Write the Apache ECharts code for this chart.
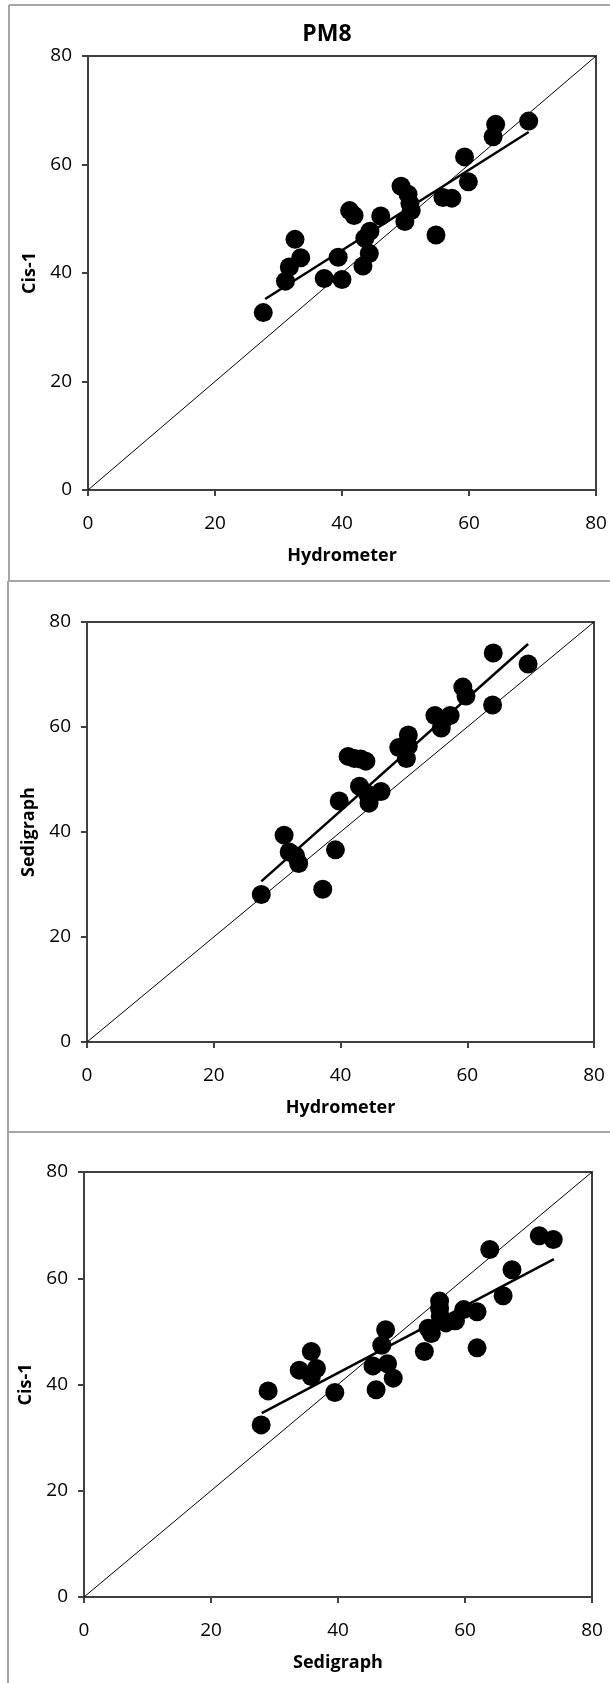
<!DOCTYPE html>
<html>
<head>
<meta charset="utf-8">
<script src="https://cdn.jsdelivr.net/npm/echarts@6/dist/echarts.min.js"></script>
<style>
html,body{margin:0;padding:0;background:#fff;}
#chart{width:610px;height:1683px;}
</style>
</head>
<body>
<div id="chart"></div>
<script>
// ---- Data ----
const chartTitle = 'PM8';
const axisTicks = [0, 20, 40, 60, 80];

// Panel 1: Hydrometer (x) vs Cis-1 (y)
const hydroVsCis = [
  [27.6,32.7],[31.1,38.5],[31.7,41.1],[32.6,46.2],[33.5,42.8],[37.2,39.0],
  [39.4,42.9],[40.0,38.8],[41.2,51.5],[41.9,50.6],[43.3,41.3],[44.3,43.6],
  [43.6,46.4],[44.4,47.7],[46.1,50.5],[49.3,56.0],[49.9,49.5],[50.4,54.5],
  [50.7,52.8],[50.9,51.5],[54.8,47.0],[55.9,53.9],[57.3,53.8],[59.3,61.4],
  [59.9,56.8],[63.8,65.1],[64.2,67.4],[69.4,68.0]
];
const hydroVsCisTrend = [[27.9,35.2],[69.4,66.0]];

// Panel 2: Hydrometer (x) vs Sedigraph (y)
const hydroVsSedi = [
  [27.5,28.1],[31.1,39.4],[31.9,36.2],[32.9,35.5],[33.4,34.0],[37.2,29.1],
  [39.2,36.6],[39.8,45.9],[41.2,54.4],[42.2,54.0],[43.2,53.9],[44.0,53.5],
  [43.0,48.7],[44.3,47.2],[44.5,45.5],[46.4,47.7],[49.2,56.1],[50.4,54.0],
  [50.7,58.5],[50.7,56.4],[54.9,62.2],[55.9,59.8],[56.2,61.3],[57.3,62.2],
  [59.3,67.6],[59.8,65.9],[64.1,74.1],[64.0,64.2],[69.6,72.0]
];
const hydroVsSediTrend = [[27.5,30.6],[69.6,75.8]];

// Panel 3: Sedigraph (x) vs Cis-1 (y)
const sediVsCis = [
  [27.9,32.4],[29.0,38.8],[33.9,42.7],[35.8,46.2],[35.8,41.5],[36.6,43.0],
  [39.5,38.5],[45.5,43.5],[46.0,39.0],[47.5,50.3],[46.9,47.4],[47.8,43.9],
  [48.7,41.2],[53.6,46.2],[54.2,50.6],[54.7,49.6],[56.0,55.7],[56.0,54.3],
  [56.1,52.8],[57.0,51.6],[58.5,52.0],[59.8,54.1],[61.9,53.7],[61.9,46.9],
  [63.9,65.4],[66.0,56.7],[67.4,61.6],[71.7,68.0],[73.9,67.3]
];
const sediVsCisTrend = [[28.0,34.6],[74.0,63.6]];

const oneToOne = [[0,0],[80,80]];

const panels = [
  {xName:'Hydrometer', yName:'Cis-1',     pts:hydroVsCis,  trend:hydroVsCisTrend},
  {xName:'Hydrometer', yName:'Sedigraph', pts:hydroVsSedi, trend:hydroVsSediTrend},
  {xName:'Sedigraph',  yName:'Cis-1',     pts:sediVsCis,   trend:sediVsCisTrend}
];

// ---- Layout ----
const grids = [
  {left:88, top:56,   width:508, height:434},
  {left:87, top:622,  width:507, height:420},
  {left:84, top:1172, width:508, height:425}
];
const FONT = '"Open Sans", "Liberation Sans", sans-serif';
const axisColor = '#404040';

function makeAxis(idx, name, isX) {
  return {
    type:'value', gridIndex:idx, min:axisTicks[0], max:axisTicks[axisTicks.length-1],
    interval:axisTicks[1]-axisTicks[0],
    name:name, nameLocation:'middle', nameGap: isX ? 57 : 41,
    nameTextStyle:{fontFamily:FONT, fontWeight:'bold', fontSize:18, color:'#000'},
    axisLine:{show:true, onZero:false, lineStyle:{color:axisColor, width:2}},
    axisTick:{show:true, inside:false, length:6, lineStyle:{color:axisColor, width:2}},
    axisLabel:{fontFamily:FONT, fontSize:19, color:'#000', margin: isX ? 24 : 16},
    splitLine:{show:false}
  };
}

const xAxes = [], yAxes = [], series = [];
panels.forEach((p, i) => {
  xAxes.push(makeAxis(i, p.xName, true));
  yAxes.push(makeAxis(i, p.yName, false));
  series.push({type:'line', xAxisIndex:i, yAxisIndex:i, data:oneToOne, showSymbol:false,
    lineStyle:{color:'#000', width:1}, z:2, silent:true, animation:false});
  series.push({type:'line', xAxisIndex:i, yAxisIndex:i, data:p.trend, showSymbol:false,
    lineStyle:{color:'#000', width:2.5}, z:3, silent:true, animation:false});
  series.push({type:'scatter', xAxisIndex:i, yAxisIndex:i, data:p.pts, symbol:'circle',
    symbolSize:19, itemStyle:{color:'#000', opacity:1}, z:4, animation:false});
});

const borderStyle = {stroke:'#a6a6a6', lineWidth:2};
const graphic = [
  {type:'text', x:327, y:34, style:{text:chartTitle, fontFamily:FONT, fontWeight:'bold',
    fontSize:23, fill:'#000', textAlign:'center', textVerticalAlign:'middle'}},
  // frames around panels
  {type:'line', shape:{x1:9, y1:5, x2:610, y2:5}, style:borderStyle},
  {type:'line', shape:{x1:9, y1:5, x2:9, y2:581}, style:borderStyle},
  {type:'line', shape:{x1:8, y1:581, x2:610, y2:581}, style:borderStyle},
  {type:'line', shape:{x1:8, y1:581, x2:8, y2:1132}, style:borderStyle},
  {type:'line', shape:{x1:8, y1:1132, x2:610, y2:1132}, style:borderStyle},
  {type:'line', shape:{x1:8, y1:1132, x2:8, y2:1683}, style:borderStyle}
];

const chart = echarts.init(document.getElementById('chart'), null, {renderer:'canvas'});
chart.setOption({
  animation:false,
  backgroundColor:'#fff',
  grid: grids.map(g => Object.assign({show:true, borderColor:axisColor, borderWidth:2, containLabel:false}, g)),
  xAxis: xAxes,
  yAxis: yAxes,
  series: series,
  graphic: graphic
});
</script>
</body>
</html>
